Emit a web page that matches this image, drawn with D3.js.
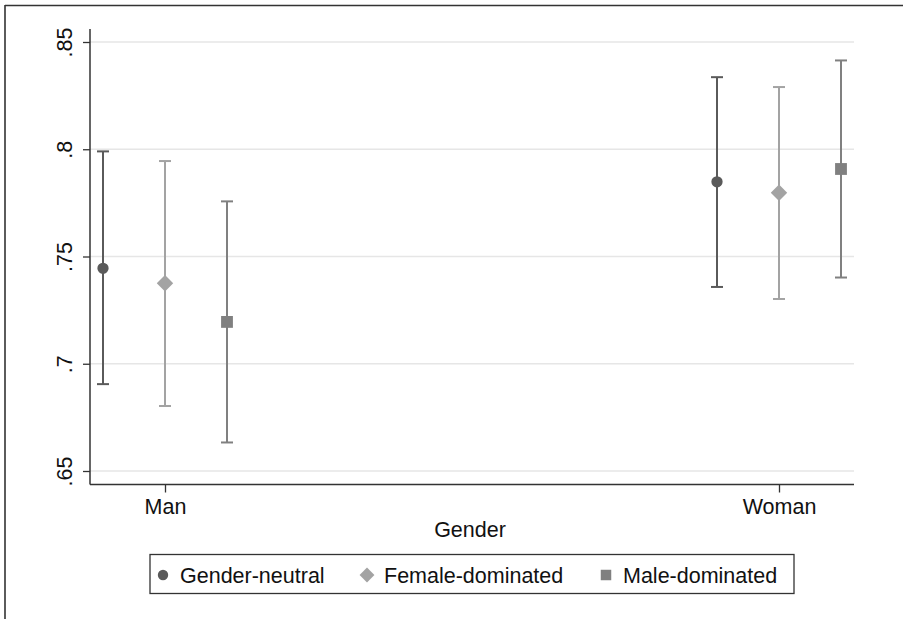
<!DOCTYPE html>
<html>
<head>
<meta charset="utf-8">
<script src="https://cdn.jsdelivr.net/npm/d3@7"></script>
<style>
  body { margin: 0; background: #fff; }
  svg text { font-family: "Liberation Sans", Arial, Helvetica, sans-serif; fill: #111; }
</style>
</head>
<body>
<svg id="chart" width="903" height="619"></svg>
<script>
// data
var genders = ["Man", "Woman"];
var series = ["Gender-neutral", "Female-dominated", "Male-dominated"];
var estimates = [[0.7445, 0.7375, 0.7195], [0.7848, 0.7797, 0.7908]];
var lower = [[0.6905, 0.6803, 0.6633], [0.7358, 0.7302, 0.7402]];
var upper = [[0.7990, 0.7945, 0.7757], [0.8336, 0.8290, 0.8414]];
var yTicks = [0.65, 0.7, 0.75, 0.8, 0.85];
var yTickLabels = [".65", ".7", ".75", ".8", ".85"];

var colors = ["#5a5a5a", "#a3a3a3", "#808080"];
var shapes = [d3.symbolCircle, d3.symbolSquare, d3.symbolSquare];
var rotations = [0, 45, 0];
var shapeSizes = [100, 135, 140];
var legendSizes = [85, 110, 110];

var svg = d3.select("#chart");

// outer frame (only top and left edges visible)
svg.append("line").attr("x1", 5).attr("x2", 903).attr("y1", 5.5).attr("y2", 5.5)
  .attr("stroke", "#333").attr("stroke-width", 1.6);
svg.append("line").attr("x1", 5).attr("x2", 5).attr("y1", 5).attr("y2", 619)
  .attr("stroke", "#333").attr("stroke-width", 1.6);

var plotLeft = 90, plotRight = 854, plotTop = 29, plotBottom = 484.5;
var fontSize = "21.5px";

var y = d3.scaleLinear().domain([0.65, 0.85]).range([471, 42]);
var x = d3.scalePoint().domain(genders).range([165, 779]);
var offset = 62;

// gridlines
svg.append("g").selectAll("line").data(yTicks).enter().append("line")
  .attr("x1", plotLeft).attr("x2", plotRight)
  .attr("y1", function(d) { return y(d); }).attr("y2", function(d) { return y(d); })
  .attr("stroke", "#e6e6e6").attr("stroke-width", 1.5);

// y axis
var yAxis = d3.axisLeft(y).tickValues(yTicks).tickSize(7)
  .tickFormat(function(d, i) { return yTickLabels[i]; });
var gy = svg.append("g").attr("transform", "translate(" + plotLeft + ",0)").call(yAxis);
gy.select(".domain").remove();
gy.selectAll(".tick line").attr("stroke", "#333").attr("stroke-width", 1.3);
gy.selectAll(".tick text")
  .attr("font-size", fontSize)
  .attr("text-anchor", "middle")
  .attr("x", 0).attr("dy", 0)
  .attr("transform", "translate(-18,0) rotate(-90)");
svg.append("line").attr("x1", plotLeft).attr("x2", plotLeft).attr("y1", plotTop).attr("y2", plotBottom)
  .attr("stroke", "#333").attr("stroke-width", 1.5);

// x axis
var xAxis = d3.axisBottom(x).tickSize(8).tickSizeOuter(0);
var gx = svg.append("g").attr("transform", "translate(0," + plotBottom + ")").call(xAxis);
gx.select(".domain").remove();
gx.selectAll(".tick line").attr("stroke", "#333").attr("stroke-width", 1.3);
gx.selectAll(".tick text").attr("font-size", fontSize).attr("y", 14).attr("dy", "0.71em");
svg.append("line").attr("x1", plotLeft).attr("x2", plotRight).attr("y1", plotBottom).attr("y2", plotBottom)
  .attr("stroke", "#333").attr("stroke-width", 1.5);

svg.append("text").attr("x", 470).attr("y", 537).attr("text-anchor", "middle")
  .attr("font-size", fontSize).text("Gender");

// error bars and markers
var points = [];
genders.forEach(function(g, gi) {
  series.forEach(function(s, si) {
    points.push({ g: g, s: si, est: estimates[gi][si], lo: lower[gi][si], hi: upper[gi][si] });
  });
});
function px(d) { return x(d.g) + (d.s - 1) * offset; }

var bars = svg.append("g").selectAll("g").data(points).enter().append("g");
bars.append("line")
  .attr("x1", px).attr("x2", px)
  .attr("y1", function(d) { return y(d.lo); }).attr("y2", function(d) { return y(d.hi); })
  .attr("stroke", function(d) { return colors[d.s]; }).attr("stroke-width", 2);
bars.append("line")
  .attr("x1", function(d) { return px(d) - 6; }).attr("x2", function(d) { return px(d) + 6; })
  .attr("y1", function(d) { return y(d.lo); }).attr("y2", function(d) { return y(d.lo); })
  .attr("stroke", function(d) { return colors[d.s]; }).attr("stroke-width", 2);
bars.append("line")
  .attr("x1", function(d) { return px(d) - 6; }).attr("x2", function(d) { return px(d) + 6; })
  .attr("y1", function(d) { return y(d.hi); }).attr("y2", function(d) { return y(d.hi); })
  .attr("stroke", function(d) { return colors[d.s]; }).attr("stroke-width", 2);
bars.append("path")
  .attr("d", function(d) { return d3.symbol().type(shapes[d.s]).size(shapeSizes[d.s])(); })
  .attr("transform", function(d) {
    return "translate(" + px(d) + "," + y(d.est) + ") rotate(" + rotations[d.s] + ")";
  })
  .attr("fill", function(d) { return colors[d.s]; });

// legend
svg.append("rect").attr("x", 150).attr("y", 554.5).attr("width", 644).attr("height", 39)
  .attr("fill", "#fff").attr("stroke", "#333").attr("stroke-width", 1.3);
var legendX = [163, 367, 606];
var leg = svg.append("g").selectAll("g").data(series).enter().append("g")
  .attr("transform", function(d, i) { return "translate(" + legendX[i] + ",575)"; });
leg.append("path")
  .attr("d", function(d, i) { return d3.symbol().type(shapes[i]).size(legendSizes[i])(); })
  .attr("transform", function(d, i) { return "rotate(" + rotations[i] + ")"; })
  .attr("fill", function(d, i) { return colors[i]; });
leg.append("text").attr("x", 17).attr("y", 7.5).attr("font-size", fontSize)
  .text(function(d) { return d; });
</script>
</body>
</html>
